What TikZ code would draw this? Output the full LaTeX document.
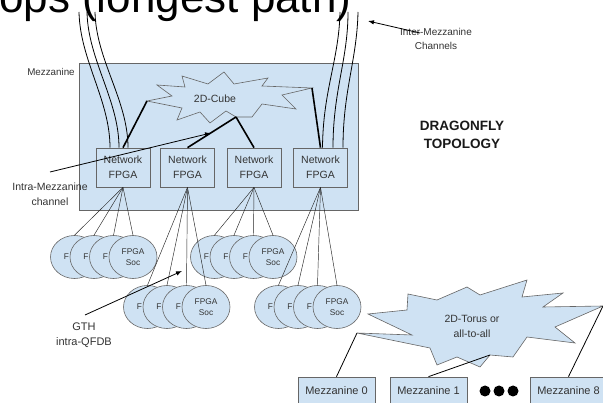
\documentclass[tikz,border=0pt]{standalone}
\usepackage{fontspec}
\setmainfont{Liberation Sans}
\usetikzlibrary{arrows.meta,shapes.geometric,calc}
\definecolor{bluefill}{HTML}{CFE2F3}
\definecolor{edgegray}{HTML}{666666}
\definecolor{txt}{HTML}{333333}
\newcommand{\myfs}[2]{\fontsize{#1}{#2}\selectfont}
\begin{document}
\begin{tikzpicture}[x=1pt,y=-1pt,
  bluebox/.style={draw=edgegray, fill=bluefill, line width=0.7pt, text=txt, align=center, inner sep=0pt},
  fpga/.style={bluebox, minimum width=54pt, minimum height=39pt, font=\myfs{10.5}{15.5}},
  soc/.style={ellipse, draw=edgegray, fill=bluefill, line width=0.6pt, minimum width=48pt, minimum height=43pt, inner sep=0pt, text=txt, align=center, font=\myfs{8.3}{11}},
  ftext/.style={inner sep=0pt, text=txt, font=\myfs{8.3}{8.3}},
  mezz/.style={bluebox, minimum width=77pt, minimum height=28pt, font=\myfs{11}{11}},
  lbl/.style={inner sep=0pt, text=txt, align=center},
  thickln/.style={line width=1.6pt, black},
  thinln/.style={line width=0.45pt, black!85},
  chan/.style={line width=0.8pt, black},
  arr/.style={line width=0.8pt, black, -{Latex[length=6pt,width=4.5pt]}},
  dot/.style={circle, fill=black, minimum size=11pt, inner sep=0pt}
]
\useasboundingbox (0,0) rectangle (603,403);
\fill[white] (0,0) rectangle (603,403);

% title (cut at top)
\node[anchor=base west, inner sep=0pt, font=\myfs{44}{44}] (title) at (-1,13) {ops (longest path)};

% Mezzanine container
\node[draw=edgegray, fill=bluefill, line width=0.7pt, minimum width=279pt, minimum height=147pt, inner sep=0pt] (mezzbox) at (218.5,136.5) {};
\node[lbl, font=\myfs{9.8}{10}] (mezzlbl) at (51,72) {Mezzanine};

% 2D-Cube starburst
\coordinate (cubeL) at (147,101);
\coordinate (cubeB) at (236,117);
\coordinate (cubeR) at (312,88);
\draw[draw=edgegray, fill=bluefill, line width=0.6pt]
  (cubeL) -- (172,96) -- (157,85) -- (185,87) -- (182,76) -- (208,84) -- (224,72) -- (234,84)
  -- (268,78) -- (262,86) -- (cubeR) -- (282,95) -- (296,109) -- (262,104) -- (252,117)
  -- (cubeB) -- (226,111) -- (210,123) -- (200,112) -- (177,120) -- (182,108) -- cycle;
\node[lbl, font=\myfs{10.5}{10.5}] (cube) at (215,99) {2D-Cube};

% Network FPGA boxes
\node[fpga] (f1) at (123,167.5) {Network\\FPGA};
\node[fpga] (f2) at (187.5,167.5) {Network\\FPGA};
\node[fpga] (f3) at (254,167.5) {Network\\FPGA};
\node[fpga] (f4) at (320.5,167.5) {Network\\FPGA};

% inter-mezzanine channels
\coordinate (la) at (79,12);
\coordinate (lb) at (87,12);
\coordinate (lc) at (95,12);
\coordinate (ra) at (340,12);
\coordinate (rb) at (348,12);
\coordinate (rc) at (358,12);
\draw[chan] (la) .. controls (80,60) and (110,100) .. ($(f1.north)+(-13,0)$);
\draw[chan] (lb) .. controls (88,60) and (119,100) .. ($(f1.north)+(-4,0)$);
\draw[chan] (lc) .. controls (96,60) and (128,100) .. ($(f1.north)+(5,0)$);
\draw[chan] (ra) .. controls (339,60) and (323,90) .. ($(f4.north)+(2,0)$);
\draw[chan] (rb) .. controls (348,60) and (333,90) .. ($(f4.north)+(12.5,0)$);
\draw[chan] (rc) .. controls (357,60) and (343,90) .. ($(f4.north)+(22.5,0)$);

% 2D-Cube links
\draw[thickln] (f1.north) -- (cubeL);
\draw[thickln] (f2.north) -- (cubeB);
\draw[thickln] (f3.north) -- (cubeB);
\draw[thickln] (f4.north) -- (cubeR);

% intra-mezzanine channel label + arrow
\node[lbl, font=\myfs{10.5}{15}] (intra) at (50,194) {Intra-Mezzanine\\channel};
\coordinate (intraS) at (50,172);
\coordinate (intraT) at (211,133);
\draw[arr] (intraS) -- (intraT);

% inter-mezzanine label + arrow
\node[lbl, font=\myfs{10}{14.5}] (inter) at (436,39) {Inter-Mezzanine\\Channels};
\coordinate (interS) at (420,33);
\coordinate (interT) at (368,21);
\draw[arr] (interS) -- (interT);

% DRAGONFLY
\node[lbl, text=black!90, font=\bfseries\myfs{13.5}{18}] (dragon) at (462,135) {DRAGONFLY\\TOPOLOGY};

% FPGA SoC ellipse groups
\foreach \g/\lx/\cy in {1/133/257, 2/206/307, 3/273/257, 4/337/307} {
  \foreach \i in {1,2,3} {
    \node[soc] (g\g e\i) at ({\lx-19.5*(4-\i)},\cy) {};
    \node[ftext] (g\g f\i) at ({\lx-19.5*(4-\i)-8},\cy) {F};
  }
  \node[soc] (g\g e4) at (\lx,\cy) {FPGA\\Soc};
}

% fan-out lines
\foreach \g/\b in {1/f1, 2/f2, 3/f3, 4/f4} {
  \foreach \i in {1,2,3,4} {
    \draw[thinln] (\b.south) -- (g\g e\i.north);
  }
}

% GTH label + arrow
\node[lbl, font=\myfs{11}{15}] (gth) at (84,335.5) {GTH\\intra-QFDB};
\coordinate (gthS) at (85,315);
\coordinate (gthT) at (182,271);
\draw[arr] (gthS) -- (gthT);

% 2D-Torus starburst
\coordinate (torL) at (357,333);
\coordinate (torB) at (490,355);
\coordinate (torR) at (603,306);
\draw[draw=edgegray, fill=bluefill, line width=0.6pt]
  (368,314) -- (407,310) -- (408,294) -- (437,300) -- (467,287) -- (480,295) -- (527,280)
  -- (522,297) -- (563,293) -- (543,307) -- (torR) -- (555,327) -- (575,343) -- (527,337)
  -- (513,357) -- (torB) -- (480,367) -- (457,357) -- (437,365) -- (430,348) -- (torL)
  -- (412,335) -- cycle;
\node[lbl, font=\myfs{10.5}{15}] (torus) at (472,326) {2D-Torus or\\all-to-all};

% mezzanine boxes
\node[mezz] (m0) at (336.5,391) {Mezzanine 0};
\node[mezz] (m1) at (428.5,391) {Mezzanine 1};
\node[mezz] (m8) at (568.5,391) {Mezzanine 8};
\node[dot] (d1) at (485,391) {};
\node[dot] (d2) at (499,391) {};
\node[dot] (d3) at (513,391) {};

\draw[line width=0.8pt] (m0.north) -- (torL);
\draw[line width=0.8pt] (m1.north) -- (torB);
\draw[line width=0.8pt] (m8.north) -- (torR);
\end{tikzpicture}
\end{document}
